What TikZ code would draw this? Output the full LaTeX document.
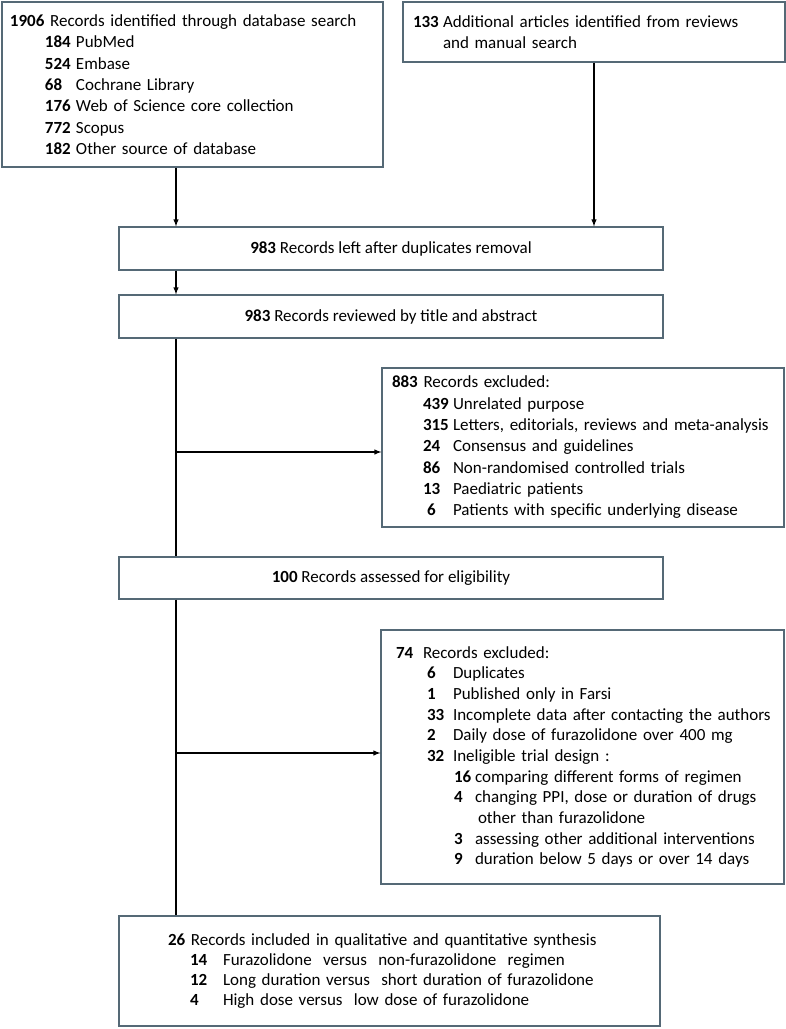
\documentclass[tikz,border=0pt]{standalone}
\usepackage{fontspec}
\setmainfont{Carlito}
\usetikzlibrary{positioning,arrows}
\definecolor{boxline}{RGB}{85,105,118}
\newcommand{\num}[2]{\makebox[#1][l]{\textbf{#2}}}

\begin{document}
\begin{tikzpicture}[x=0.75pt,y=-0.75pt]
\tikzstyle{sqr}=[rectangle, draw=boxline, line width=0.9pt, fill=white, inner sep=0pt, font=\fontsize{12.75}{16}\selectfont]
\tikzstyle{connect}=[-latex, thick]
\tikzstyle{link}=[-, thick]
\useasboundingbox (0,0) rectangle (786,1029);
% 1. Boxes
%%%%%%%%%%
\node[sqr, minimum width=285.75pt, minimum height=123.75pt, inner xsep=6pt, text width=273.75pt, align=left] (db) at (192.5,84.5) {
  \textbf{1906} Records identified through database search\\
  \hspace*{26.25pt}\num{23.25pt}{184}PubMed\\
  \hspace*{26.25pt}\num{23.25pt}{524}Embase\\
  \hspace*{26.25pt}\num{23.25pt}{68}Cochrane Library\\
  \hspace*{26.25pt}\num{23.25pt}{176}Web of Science core collection\\
  \hspace*{26.25pt}\num{23.25pt}{772}Scopus\\
  \hspace*{26.25pt}\num{23.25pt}{182}Other source of database};
\node[sqr, minimum width=286.5pt, minimum height=45pt, inner xsep=7.5pt, text width=271.5pt, align=left] (extra) at (594,32) {
  \num{22.5pt}{133}Additional articles identified from reviews\\
  \hspace*{22.5pt}and manual search};
\node[sqr, minimum width=408pt, minimum height=32.25pt] (dup) at (391,248.5) {\textbf{983} Records left after duplicates removal};
\node[sqr, minimum width=408pt, minimum height=32.25pt] (screen) at (391,316.5) {\textbf{983} Records reviewed by title and abstract};
\node[sqr, minimum width=301.5pt, minimum height=119.25pt, inner xsep=7.5pt, text width=286.5pt, align=left] (excl1) at (583,447.5) {
  \textbf{883} Records excluded:\\
  \hspace*{23.25pt}\num{22.5pt}{439}Unrelated purpose\\
  \hspace*{23.25pt}\num{22.5pt}{315}Letters, editorials, reviews and meta-analysis\\
  \hspace*{23.25pt}\num{22.5pt}{24}Consensus and guidelines\\
  \hspace*{23.25pt}\num{22.5pt}{86}Non-randomised controlled trials\\
  \hspace*{23.25pt}\num{22.5pt}{13}Paediatric patients\\
  \hspace*{23.25pt}\num{22.5pt}{\hspace*{3pt}6}Patients with specific underlying disease};
\node[sqr, minimum width=408pt, minimum height=31.5pt] (elig) at (391,578) {\textbf{100} Records assessed for eligibility};
\node[sqr, minimum width=302.25pt, minimum height=190.5pt, inner xsep=7.5pt, text width=287.25pt, align=left, font=\fontsize{12.75}{15.5}\selectfont] (excl2) at (582.5,757) {
  \hspace*{3.75pt}\num{20.25pt}{74}Records excluded:\\
  \hspace*{27pt}\num{19.5pt}{6}Duplicates\\
  \hspace*{27pt}\num{19.5pt}{1}Published only in Farsi\\
  \hspace*{27pt}\num{19.5pt}{33}Incomplete data after contacting the authors\\
  \hspace*{27pt}\num{19.5pt}{2}Daily dose of furazolidone over 400 mg\\
  \hspace*{27pt}\num{19.5pt}{32}Ineligible trial design :\\
  \hspace*{47.25pt}\num{15.75pt}{16}comparing different forms of regimen\\
  \hspace*{47.25pt}\num{15.75pt}{4}changing PPI, dose or duration of drugs\\
  \hspace*{65.25pt}other than furazolidone\\
  \hspace*{47.25pt}\num{15.75pt}{3}assessing other additional interventions\\
  \hspace*{47.25pt}\num{15.75pt}{9}duration below 5 days or over 14 days};
\node[sqr, minimum width=405.75pt, minimum height=82.5pt, inner xsep=36.75pt, text width=332.25pt, align=left, font=\fontsize{12.75}{15}\selectfont] (incl) at (389.5,971) {
  \textbf{26} Records included in qualitative and quantitative synthesis\\
  \hspace*{16.5pt}\num{24.75pt}{14}Furazolidone~ versus~ non-furazolidone~ regimen\\
  \hspace*{16.5pt}\num{24.75pt}{12}Long duration versus~ short duration of furazolidone\\
  \hspace*{16.5pt}\num{24.75pt}{4}High dose versus~ low dose of furazolidone};
% 2. Arrows
%%%%%%%%%%%
\coordinate (trunk) at (176,0);
\coordinate (b1) at (176,452);
\coordinate (b2) at (176,753);
\path (db.south -| trunk)     edge [connect] (dup.north -| trunk)
      (extra)                 edge [connect] (dup.north -| extra)
      (dup.south -| trunk)    edge [connect] (screen.north -| trunk)
      (screen.south -| trunk) edge [link]    (elig.north -| trunk)
      (elig.south -| trunk)   edge [link]    (incl.north -| trunk)
      (b1)                    edge [connect] (b1 -| excl1.west)
      (b2)                    edge [connect] (b2 -| excl2.west);

\end{tikzpicture}
\end{document}
